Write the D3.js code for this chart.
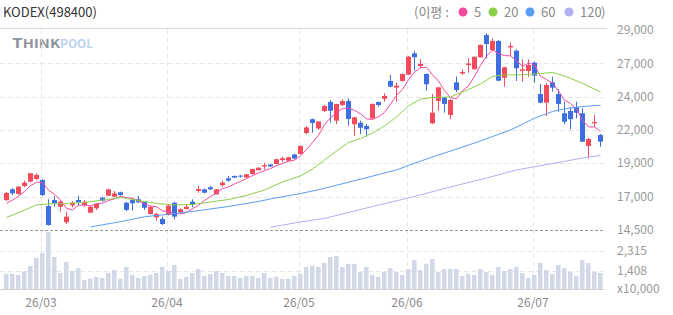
<!DOCTYPE html>
<html>
<head>
<meta charset="utf-8">
<script src="https://cdn.jsdelivr.net/npm/d3@7"></script>
<style>
  body { margin: 0; background: #fff; }
  text { font-family: "Noto Sans CJK KR", "Noto Sans", sans-serif; }
</style>
</head>
<body>
<div id="chart-area"></div>
<script>
// trading days (2026)
var dates = [
  "02/20","02/23","02/24","02/25","02/26","02/27",
  "03/03","03/04","03/05","03/06","03/09","03/10","03/11","03/12","03/13","03/16","03/17","03/18","03/19","03/20",
  "03/23","03/24","03/25","03/26","03/27","03/30","03/31",
  "04/01","04/02","04/03","04/06","04/07","04/08","04/09","04/10","04/13","04/14","04/15","04/16","04/17",
  "04/20","04/21","04/22","04/23","04/24","04/27","04/28","04/29","04/30",
  "05/04","05/06","05/07","05/08","05/11","05/12","05/13","05/14","05/15","05/18","05/19","05/20","05/21","05/22",
  "05/26","05/27","05/28","05/29",
  "06/01","06/02","06/04","06/05","06/08","06/09","06/10","06/11","06/12","06/15","06/16","06/17","06/18","06/19",
  "06/22","06/23","06/24","06/25","06/26","06/29","06/30",
  "07/01","07/02","07/03","07/06","07/07","07/08","07/09","07/10","07/13","07/14","07/15","07/16"
];
var monthTicks = ["03/03", "04/01", "05/04", "06/01", "07/01"];
var monthLabels = ["26/03", "26/04", "26/05", "26/06", "26/07"];

var open = [16650,17420,17090,17660,17970,18160,18090,16220,16650,16170,
  15050,16270,16650,16300,15740,16060,16820,16960,16890,17210,
  16460,16650,16700,16530,15650,15410,15290,15580,16460,15790,
  16010,16530,17300,17420,17570,17060,17710,18210,18380,18400,
  18280,18520,18790,19050,19200,19240,19520,19470,19920,19960,
  21460,22450,21790,23040,23690,22350,23470,23760,22090,22200,
  21970,22520,23690,23920,25200,24720,25200,25650,27180,26270,
  25700,22160,23760,24030,22760,25100,25730,26340,26040,26900,
  28500,27420,28070,25430,27610,27370,25930,25910,26510,24260,
  23640,25100,24260,22880,23040,23310,22880,20530,22160,21320];
var high = [17230,17520,17660,18040,18590,18570,18160,16700,16940,16580,
  15810,16580,16940,16650,16220,16400,16890,17440,17300,17250,
  16530,16780,16940,16580,16220,15740,15460,16300,16530,16060,
  16370,16700,17660,17470,17660,17440,18040,18380,18410,18450,
  18520,18910,19000,19330,19260,19600,19760,19760,19980,20570,
  21970,22500,22320,23470,23830,23550,23880,23950,22610,22350,
  22110,23580,23720,24310,25630,25100,25730,26990,27370,26750,
  25730,24260,24770,24050,23900,25520,26020,26820,26950,27820,
  28620,28260,28140,26200,27950,27470,26750,26750,26580,24980,
  25030,25500,24600,23710,23350,23710,23240,21100,22750,21390];
var low = [16580,17010,17050,17570,17950,18090,16940,14820,16170,15810,
  14930,16130,16220,16170,15720,15940,16530,16940,16870,16960,
  15860,15890,16440,15940,15610,15170,14860,15540,15270,15720,
  15970,16130,17180,17130,17370,17050,17610,17970,18230,18270,
  18230,18480,18770,18840,19020,19200,19400,19450,19580,19920,
  21360,21490,21680,22970,22200,22110,23400,21990,21250,21390,
  21200,22470,23350,23710,24770,23710,25160,25630,25930,26110,
  24500,22090,23060,22920,22450,24410,25630,25790,26020,26880,
  26820,27350,25200,24790,26990,25200,25150,25500,25070,23600,
  22680,24430,22990,22090,21730,22520,20820,19650,21920,20480];
var close = [17160,17130,17610,17900,18570,18450,17010,14860,16420,16530,
  15460,16460,16490,16530,16170,16370,16600,17420,17130,17010,
  15940,16420,16490,16100,16170,15650,14930,16250,15460,15990,
  16170,16300,17440,17180,17420,17420,17900,18040,18260,18330,
  18500,18880,18970,19150,19060,19580,19650,19720,19630,20530,
  21860,22180,22290,23400,23060,23550,23760,22470,22590,21840,
  21730,23550,23470,24120,24790,24860,25700,26940,26900,26420,
  24960,22920,24740,23550,23830,24550,25840,26450,26940,27780,
  27850,28070,25220,26180,27710,26110,26040,26340,25580,23640,
  24910,24720,23550,22270,22450,22920,20840,21030,22250,20840];
// volume, x10,000
var volume = [1270,1270,1230,1380,1640,2000,2230,3190,2040,1320,
  1820,1410,1540,1000,1050,1140,1090,1320,1450,1050,
  1590,1230,1090,1180,1230,1320,1590,1410,1680,1050,
  1140,1320,1500,1180,1270,1410,1320,1180,1180,1090,
  1180,1180,1090,1320,1090,1140,1050,1050,1180,1270,
  1590,1640,1590,1770,2040,2090,1590,1730,1730,1360,
  1590,1230,1140,1360,1540,1360,1230,1500,1910,1450,
  1730,1950,1360,1500,1500,1500,1180,1270,1230,1500,
  1360,1230,1590,1410,1500,1590,1320,1090,1230,1770,
  1450,1270,1680,1540,1360,1180,1910,1770,1360,1320];

// moving averages
var ma5 = [16420,16650,16940,17260,17670,17930,17910,17360,17060,16650,
  16060,15940,16270,16300,16220,16400,16430,16620,16740,16910,
  16820,16780,16600,16390,16220,16170,15870,15820,15690,15660,
  15760,16030,16270,16620,16910,17150,17470,17590,17810,17990,
  18200,18400,18590,18760,18910,19120,19280,19430,19520,19820,
  20280,20780,21300,22050,22560,22900,23220,23250,23090,22840,
  22480,22430,22630,22940,23530,24160,24590,25280,25830,26160,
  26180,25630,25190,24510,24000,23920,24500,24840,25530,26320,
  26980,27420,27170,27020,27000,26650,26250,26470,26350,25540,
  25300,25040,24480,23820,23580,23180,22400,21900,21900,21580];
// [day index, value]
var ma20 = [[0,15410],[2,15740],[4,16120],[5,16300],[7,16370],[10,16400],[13,16480],[16,16650],
  [19,16830],[22,16620],[25,16400],[28,16300],[31,16330],[34,16510],[37,16690],[40,16980],
  [43,17370],[46,17950],[49,18380],[51,18880],[53,19520],[55,20170],[57,20780],[59,21070],
  [61,21460],[63,21970],[65,22610],[67,23400],[69,23900],[71,24010],[74,24050],[77,24590],
  [79,24980],[81,25520],[83,25630],[86,25640],[89,25730],[91,25810],[93,25560],[96,25030],[99,24410]];
var ma60 = [[14,14720],[19,15100],[23,15450],[27,15630],[32,15890],[37,16190],[42,16550],[44,16730],
  [49,17120],[52,17390],[56,17820],[62,18480],[65,18810],[67,19130],[70,19600],[74,20170],
  [79,20890],[84,21680],[88,22520],[91,23010],[94,23260],[97,23400],[99,23450]];
var ma120 = [[44,14700],[49,15080],[53,15330],[60,16080],[67,16800],[74,17590],[80,18230],
  [85,18810],[91,19270],[96,19670],[99,19850]];

var priceTicks = [14500, 16890, 19290, 21680, 24070, 26460, 28860];
var priceLabels = ["14,500", "17,000", "19,000", "22,000", "24,000", "27,000", "29,000"];
var volTicks = [1408, 2315];
var volLabels = ["1,408", "2,315"];
var maNames = ["5", "20", "60", "120"];
var maColors = ["#f64aa0", "#8ccf4b", "#5a9df2", "#b3b0ef"];

var width = 673;
var height = 315;
var plotRight = 604;

var svg = d3.select('#chart-area')
  .append('svg')
    .attr('width', width)
    .attr('height', height)
    .style('display', 'block');

var x = d3.scaleBand().domain(dates).range([3.5, 603.5]);
var cx = function(d) { return x(d) + x.bandwidth() / 2; };
var y = d3.scaleLinear().domain([14500, 29000]).range([230, 28]);
var yv = d3.scaleLinear().domain([590, 3270]).range([289, 230]);

// header
svg.append('text')
  .attr('x', 3).attr('y', 17)
  .attr('font-size', '13px').attr('fill', '#333')
  .text('KODEX(498400)');

svg.append('text')
  .attr('x', 414).attr('y', 17)
  .attr('font-size', '13px').attr('fill', '#8a8a8a')
  .text('(이평 :');
var dotX = [463, 493, 530, 569];
maNames.forEach(function(n, i) {
  svg.append('circle').attr('cx', dotX[i]).attr('cy', 12).attr('r', 4.5).attr('fill', maColors[i]);
  svg.append('text').attr('x', dotX[i] + 11).attr('y', 17)
    .attr('font-size', '13px').attr('fill', '#8a8a8a').text(n);
});
svg.append('text')
  .attr('x', 601).attr('y', 17)
  .attr('font-size', '13px').attr('fill', '#8a8a8a')
  .text(')');

svg.append('line')
  .attr('x1', 0).attr('x2', 607).attr('y1', 28.5).attr('y2', 28.5)
  .attr('stroke', '#dcdcdc');

// watermark
var wm = svg.append('text').attr('x', 12).attr('y', 48)
  .attr('font-family', 'DejaVu Sans').attr('font-weight', 'bold')
  .attr('font-size', '11px').attr('fill', '#8e939b')
  .attr('textLength', 48).attr('lengthAdjust', 'spacingAndGlyphs');
wm.append('tspan').attr('font-size', '13px').text('T');
wm.append('tspan').text('HINK');
svg.append('text').attr('x', 60).attr('y', 48)
  .attr('font-family', 'DejaVu Sans').attr('font-weight', 'bold')
  .attr('font-size', '11px').attr('fill', '#bcd3f0')
  .attr('textLength', 33).attr('lengthAdjust', 'spacingAndGlyphs')
  .text('POOL');

// grid
var grid = svg.append('g');
grid.selectAll('.hgrid')
  .data(priceTicks.slice(1, 6))
  .enter().append('line')
    .attr('x1', 0).attr('x2', plotRight)
    .attr('y1', function(d) { return Math.round(y(d)) + 0.5; })
    .attr('y2', function(d) { return Math.round(y(d)) + 0.5; })
    .attr('stroke', '#e6e6e6').attr('stroke-dasharray', '5,3');
grid.selectAll('.vgrid')
  .data(volTicks)
  .enter().append('line')
    .attr('x1', 0).attr('x2', plotRight)
    .attr('y1', function(d) { return Math.round(yv(d)) + 0.5; })
    .attr('y2', function(d) { return Math.round(yv(d)) + 0.5; })
    .attr('stroke', '#e6e6e6').attr('stroke-dasharray', '5,3');
grid.selectAll('.mgrid')
  .data(monthTicks)
  .enter().append('line')
    .attr('x1', function(d) { return Math.round(x(d)) + 1.5; })
    .attr('x2', function(d) { return Math.round(x(d)) + 1.5; })
    .attr('y1', 29).attr('y2', 290)
    .attr('stroke', '#e6e6e6').attr('stroke-dasharray', '5,3');

// volume bars
svg.append('g').selectAll('rect')
  .data(dates)
  .enter().append('rect')
    .attr('x', function(d) { return cx(d) - 2.5; })
    .attr('width', 4.5)
    .attr('y', function(d, i) { return yv(volume[i]); })
    .attr('height', function(d, i) { return 289 - yv(volume[i]); })
    .attr('fill', '#d3d8e8');

svg.append('line')
  .attr('x1', 0).attr('x2', plotRight).attr('y1', 289.5).attr('y2', 289.5)
  .attr('stroke', '#cfcfcf');
svg.append('line')
  .attr('x1', 0).attr('x2', plotRight)
  .attr('y1', Math.round(y(14500)) + 0.5).attr('y2', Math.round(y(14500)) + 0.5)
  .attr('stroke', '#9a9a9a').attr('stroke-dasharray', '3,2');

// candles
var up = '#f44b5c', down = '#3d6fe2';
var candle = svg.append('g').selectAll('g')
  .data(dates)
  .enter().append('g');
candle.append('line')
  .attr('x1', function(d) { return Math.floor(cx(d)) + 0.5; })
  .attr('x2', function(d) { return Math.floor(cx(d)) + 0.5; })
  .attr('y1', function(d, i) { return y(high[i]); })
  .attr('y2', function(d, i) { return y(low[i]); })
  .attr('stroke', function(d, i) { return close[i] > open[i] ? up : down; });
candle.append('rect')
  .attr('x', function(d) { return Math.floor(cx(d)) - 2; })
  .attr('width', 5)
  .attr('y', function(d, i) { return y(Math.max(open[i], close[i])); })
  .attr('height', function(d, i) { return Math.max(1, Math.abs(y(open[i]) - y(close[i]))); })
  .attr('fill', function(d, i) { return close[i] > open[i] ? up : down; });

// moving average lines
var lineIdx = d3.line()
  .x(function(d) { return cx(dates[d[0]]); })
  .y(function(d) { return y(d[1]); });
var maSeries = [ma5.map(function(v, i) { return [i, v]; }), ma20, ma60, ma120];
svg.append('g').selectAll('path')
  .data(maSeries)
  .enter().append('path')
    .attr('d', lineIdx)
    .attr('fill', 'none')
    .attr('stroke', function(d, i) { return maColors[i]; })
    .attr('stroke-width', 1);

// right axis labels
svg.append('g').selectAll('text')
  .data(priceTicks)
  .enter().append('text')
    .attr('x', 617)
    .attr('y', function(d) { return y(d); })
    .attr('dy', '0.35em')
    .attr('font-size', '12px').attr('fill', '#9a9a9a')
    .text(function(d, i) { return priceLabels[i]; });
svg.append('g').selectAll('text')
  .data(volTicks)
  .enter().append('text')
    .attr('x', 617)
    .attr('y', function(d) { return yv(d); })
    .attr('dy', '0.35em')
    .attr('font-size', '12px').attr('fill', '#9a9a9a')
    .text(function(d, i) { return volLabels[i]; });
svg.append('text')
  .attr('x', 617).attr('y', 289).attr('dy', '0.35em')
  .attr('font-size', '12px').attr('fill', '#9a9a9a')
  .text('x10,000');

// month labels
svg.append('g').selectAll('text')
  .data(monthTicks)
  .enter().append('text')
    .attr('x', function(d) { return Math.round(x(d)) + 1; })
    .attr('y', 303).attr('dy', '0.35em')
    .attr('text-anchor', 'middle')
    .attr('font-size', '12px').attr('fill', '#8a8a8a')
    .text(function(d, i) { return monthLabels[i]; });
</script>
</body>
</html>
